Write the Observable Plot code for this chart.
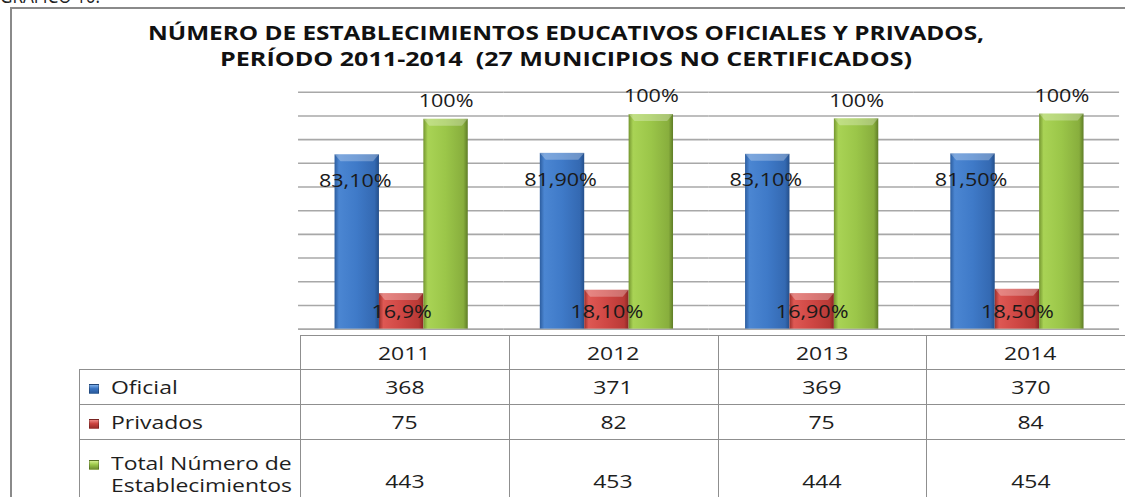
<!DOCTYPE html>
<html lang="es"><head><meta charset="utf-8">
<script src="https://cdn.jsdelivr.net/npm/d3@7"></script>
<script src="https://cdn.jsdelivr.net/npm/@observablehq/plot@0.6"></script>
<style>
html,body{margin:0;padding:0;background:#fff;}
body{width:1125px;height:497px;overflow:hidden;}
#page{position:relative;width:1125px;height:497px;overflow:hidden;font-family:"Open Sans",sans-serif;color:#1e1e1e;}
#page > *{position:absolute;}
.ln{position:absolute;background:#8f8f8f;}
.cell{position:absolute;display:flex;align-items:center;justify-content:center;font-size:18.5px;}
.cell span{display:inline-block;transform:scaleX(1.24);transform-origin:center;white-space:nowrap;}
.lab{justify-content:flex-start;}
.lab .inner{display:flex;align-items:flex-start;}
.lab span{transform-origin:left center;line-height:22px;white-space:pre;}
.sq{width:10px;height:10px;margin-top:8px;margin-right:12px;flex:none;box-sizing:border-box;}
</style></head>
<body><div id="page"></div>
<script>
// ---------- data ----------
const years = ["2011", "2012", "2013", "2014"];
const series = ["Oficial", "Privados", "Total Número de Establecimientos"];
const seriesTableLabels = ["Oficial", "Privados", "Total Número de\nEstablecimientos"];
const oficial = [368, 371, 369, 370];
const privados = [75, 82, 75, 84];
const total = [443, 453, 444, 454];
const oficialLabels = ["83,10%", "81,90%", "83,10%", "81,50%"];
const privadosLabels = ["16,9%", "18,10%", "16,90%", "18,50%"];
const totalLabels = ["100%", "100%", "100%", "100%"];
const gridTicks = [0, 50, 100, 150, 200, 250, 300, 350, 400, 450, 500];
const titleLines = [
  "NÚMERO DE ESTABLECIMIENTOS EDUCATIVOS OFICIALES Y PRIVADOS,",
  "PERÍODO 2011-2014  (27 MUNICIPIOS NO CERTIFICADOS)"
];
const topCaption = "GRAFICO 10.";

// ---------- derived table ----------
const values = [oficial, privados, total];
const labels = [oficialLabels, privadosLabels, totalLabels];
const rows = years.flatMap((year, i) =>
  series.map((s, k) => ({year, series: s, value: values[k][i], label: labels[k][i]}))
);

// ---------- layout ----------
const W = 1125, H = 497;
const plotLeft = 300, plotRight = 1135;
const plotWidth = 1140;
const colW = (plotRight - plotLeft) / years.length;
const labelLeft = 79;
const rowEdges = [335, 369, 404, 439, 521];
const labelShift = [0, 0, -6];
const gradIds = ["gBlue", "gRed", "gGreen"];
const gradStops = [
  ["#2c5d9f", "#4b86d2", "#3f7ac8", "#3469b2", "#244f8a"],
  ["#9c2f2b", "#de5853", "#cf4744", "#b93a36", "#8a2623"],
  ["#74962f", "#a9d355", "#9bc649", "#88ae3d", "#5f7d27"]
];
const sqGrad = [
  "linear-gradient(to bottom,#7fb0ea,#3a74c2 45%,#2a5a9c)",
  "linear-gradient(to bottom,#ee8a86,#cc4440 45%,#9a2c29)",
  "linear-gradient(to bottom,#d2ee8a,#9cc84a 45%,#6f9030)"
];

const page = document.getElementById("page");

// ---------- chart ----------
const chart = Plot.plot({
  width: plotWidth,
  height: H,
  marginLeft: plotLeft,
  marginRight: plotWidth - plotRight,
  marginTop: 93,
  marginBottom: 164,
  style: {fontFamily: "'Open Sans', sans-serif", fontSize: "17.5px", color: "#1a1a1a", background: "transparent", overflow: "visible"},
  fx: {domain: years, padding: 0, axis: null},
  x: {domain: series, paddingInner: 0, paddingOuter: 0.77, axis: null},
  y: {domain: [0, 500], axis: null},
  color: {type: "ordinal", domain: series, range: gradIds.map(id => `url(#${id})`)},
  marks: [
    Plot.ruleY(gridTicks, {stroke: "#a8a8a8", strokeWidth: 1.6}),
    Plot.barY(rows, {fx: "year", x: "series", y: "value", fill: "series"}),
    Plot.text(rows.filter(d => d.series === series[0]), {fx: "year", x: "series", y: "value", text: "label", lineAnchor: "middle", dy: 27, dx: -2}),
    Plot.text(rows.filter(d => d.series === series[1]), {fx: "year", x: "series", text: "label", frameAnchor: "bottom", lineAnchor: "middle", dy: -17}),
    Plot.text(rows.filter(d => d.series === series[2]), {fx: "year", x: "series", y: "value", text: "label", lineAnchor: "middle", dy: -18})
  ]
});
chart.style.position = "absolute";
chart.style.left = "0px";
chart.style.top = "0px";
page.appendChild(chart);

// gradients
const svg = d3.select(chart);
const defs = svg.insert("defs", ":first-child");
gradIds.forEach((id, k) => {
  const g = defs.append("linearGradient").attr("id", id).attr("x1", 0).attr("x2", 1).attr("y1", 0).attr("y2", 0);
  [0, 0.1, 0.5, 0.9, 1].forEach((o, j) => g.append("stop").attr("offset", o).attr("stop-color", gradStops[k][j]));
});
// top bevel highlight on bars
svg.selectAll('g[aria-label="bar"] rect').each(function() {
  const r = d3.select(this);
  const x = +r.attr("x"), y = +r.attr("y"), w = +r.attr("width");
  d3.select(this.parentNode).append("polygon")
    .attr("points", `${x},${y} ${x + w},${y} ${x + w - 6},${y + 7} ${x + 6},${y + 7}`)
    .attr("fill", "rgba(255,255,255,0.28)");
});
// horizontally stretched label glyphs
svg.selectAll('g[aria-label="text"] text').each(function() {
  const t = d3.select(this);
  const tr = t.attr("transform");
  if (tr) t.attr("transform", tr + " scale(1.25,1)");
  else {
    const x = +t.attr("x") || 0, y = +t.attr("y") || 0;
    t.attr("transform", `translate(${x},${y}) scale(1.25,1) translate(${-x},${-y})`);
  }
});

// ---------- frame ----------
function line(left, top, width, height, color) {
  const d = document.createElement("div");
  d.className = "ln";
  Object.assign(d.style, {left: left + "px", top: top + "px", width: width + "px", height: height + "px"});
  if (color) d.style.background = color;
  page.appendChild(d);
}
line(10, 7, W - 10, 2, "#8a8a8a");
line(10, 7, 2, H - 7, "#8a8a8a");

// ---------- title ----------
const ns = "http://www.w3.org/2000/svg";
const tsvg = document.createElementNS(ns, "svg");
tsvg.setAttribute("width", W); tsvg.setAttribute("height", 80);
tsvg.style.position = "absolute"; tsvg.style.left = "0px"; tsvg.style.top = "0px";
const titleSpecs = [
  {x: 148, y: 40, len: 836},
  {x: 220, y: 66, len: 692}
];
titleLines.forEach((txt, i) => {
  const t = document.createElementNS(ns, "text");
  t.setAttribute("x", titleSpecs[i].x); t.setAttribute("y", titleSpecs[i].y);
  t.setAttribute("textLength", titleSpecs[i].len);
  t.setAttribute("lengthAdjust", "spacingAndGlyphs");
  t.setAttribute("font-family", "'Open Sans', sans-serif");
  t.setAttribute("font-weight", "700");
  t.setAttribute("font-size", "20px");
  t.setAttribute("fill", "#111");
  t.style.whiteSpace = "pre";
  t.textContent = txt;
  tsvg.appendChild(t);
});
const cap = document.createElementNS(ns, "text");
cap.setAttribute("x", 0); cap.setAttribute("y", 2.5);
cap.setAttribute("textLength", 100); cap.setAttribute("lengthAdjust", "spacingAndGlyphs");
cap.setAttribute("font-family", "'Open Sans', sans-serif");
cap.setAttribute("font-size", "20px"); cap.setAttribute("fill", "#222");
cap.textContent = topCaption;
tsvg.appendChild(cap);
page.appendChild(tsvg);

// ---------- data table ----------
line(plotLeft, rowEdges[0], plotRight - plotLeft, 1);
for (let r = 1; r <= 3; r++) line(labelLeft, rowEdges[r], plotRight - labelLeft, 1);
line(labelLeft, rowEdges[1], 1, H - rowEdges[1]);
for (let c = 0; c <= years.length; c++) line(Math.round(plotLeft + c * colW), rowEdges[0], 1, H - rowEdges[0]);

function cell(left, top, width, height, cls) {
  const d = document.createElement("div");
  d.className = "cell" + (cls ? " " + cls : "");
  Object.assign(d.style, {left: left + "px", top: top + "px", width: width + "px", height: height + "px"});
  page.appendChild(d);
  return d;
}
years.forEach((y, c) => {
  const d = cell(plotLeft + c * colW, rowEdges[0], colW, rowEdges[1] - rowEdges[0]);
  d.innerHTML = `<span>${y}</span>`;
});
values.forEach((vals, r) => {
  vals.forEach((v, c) => {
    const d = cell(plotLeft + c * colW, rowEdges[r + 1], colW, rowEdges[r + 2] - rowEdges[r + 1]);
    d.innerHTML = `<span>${v}</span>`;
  });
  const lab = cell(89, rowEdges[r + 1], plotLeft - 89, rowEdges[r + 2] - rowEdges[r + 1], "lab");
  const inner = document.createElement("div");
  inner.className = "inner";
  inner.style.transform = `translateY(${labelShift[r]}px)`;
  const sq = document.createElement("div");
  sq.className = "sq";
  sq.style.background = sqGrad[r];
  sq.style.border = "1px solid rgba(0,0,0,0.25)";
  const sp = document.createElement("span");
  sp.textContent = seriesTableLabels[r];
  inner.appendChild(sq); inner.appendChild(sp);
  lab.appendChild(inner);
});
</script>
</body></html>
